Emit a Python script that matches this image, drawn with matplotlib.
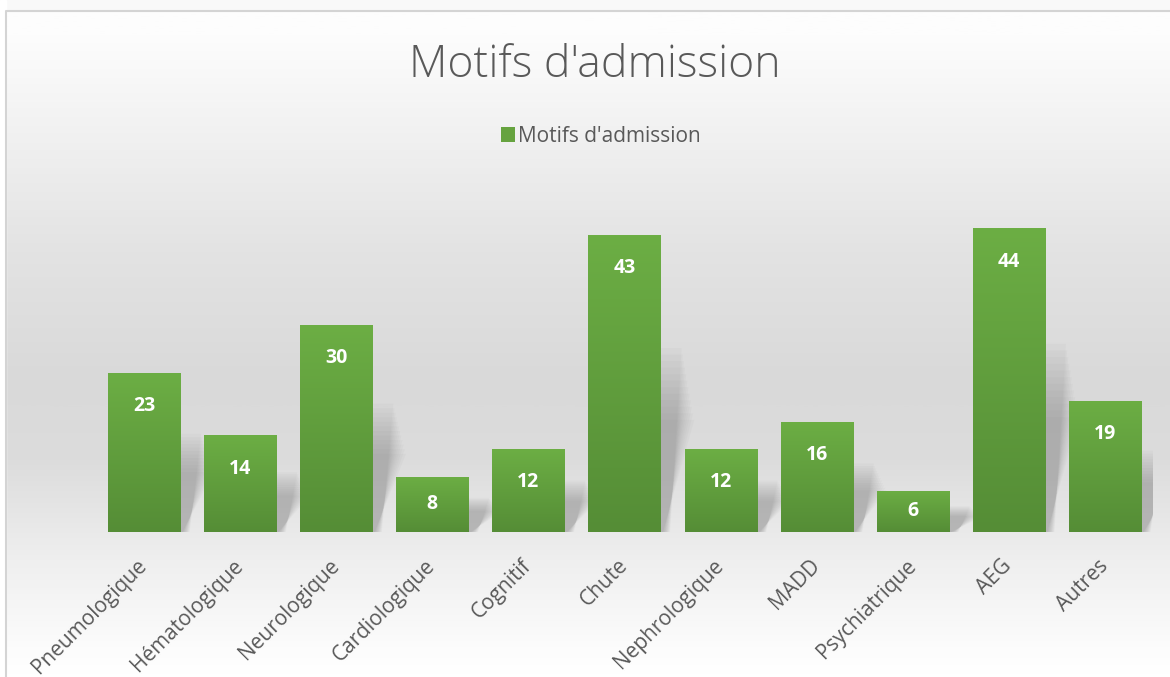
import matplotlib
matplotlib.use('Agg')
import matplotlib.pyplot as plt
from matplotlib.colors import LinearSegmentedColormap
from matplotlib.patches import Polygon, Rectangle
import numpy as np

categories = ['Pneumologique', 'Hématologique', 'Neurologique', 'Cardiologique',
              'Cognitif', 'Chute', 'Nephrologique', 'MADD', 'Psychiatrique',
              'AEG', 'Autres']
values = [23, 14, 30, 8, 12, 43, 12, 16, 6, 44, 19]
title = "Motifs d'admission"
series_name = "Motifs d'admission"

plt.rcParams['font.family'] = ['Open Sans', 'DejaVu Sans']

W, H = 1170, 677
fig = plt.figure(figsize=(W / 100, H / 100), dpi=100)

# background gradient (white -> grey -> white)
bg = fig.add_axes([0, 0, 1, 1], zorder=-10)
bg_cmap = LinearSegmentedColormap.from_list('bg', [
    (0.0, '#fdfdfd'), (0.05, '#fdfdfd'), (0.22, '#efefef'), (0.37, '#e3e3e3'),
    (0.56, '#d9d9d9'), (0.68, '#dcdcdc'), (0.83, '#efefef'), (0.96, '#fcfcfc'),
    (1.0, '#ffffff')])
grad = np.linspace(0, 1, 400).reshape(-1, 1)
bg.imshow(grad, cmap=bg_cmap, aspect='auto', extent=(0, 1, 0, 1), origin='upper')
bg.set_xlim(0, 1)
bg.set_ylim(0, 1)
bg.axis('off')
# white strip above/left of chart border, then the border itself
bg.add_patch(Rectangle((0, 1 - 11 / H), 1, 11 / H, color='#f9f9f9', zorder=2))
bg.add_patch(Rectangle((0, 0), 6 / W, 1, color='#ffffff', zorder=2))
bg.plot([6 / W, 6 / W, 1.0], [0, 1 - 11 / H, 1 - 11 / H], color='#d4d4d4', lw=1.5, zorder=3)

ax = fig.add_axes([96 / W, 1 - 532 / H, (1153 - 96) / W, 345 / H])
ax.patch.set_alpha(0)
x = np.arange(len(categories))
bars = ax.bar(x, values, width=0.75, color='none', zorder=3)
ax.set_xlim(-0.5, len(categories) - 0.5)
ax.set_ylim(0, 50)

bar_cmap = LinearSegmentedColormap.from_list('bar', ['#6cae44', '#558d36'])
for b in bars:
    x0, w, h = b.get_x(), b.get_width(), b.get_height()
    # soft perspective shadow behind each bar
    for k in range(12):
        s = k * 0.012
        top = h * (0.62 - k * 0.022)
        poly = Polygon([(x0 + 0.05, 0), (x0 + w + 0.10 - k * 0.007, 0),
                        (x0 + w + 0.22 + s, top),
                        (x0 + 0.22 + s, top)],
                       closed=True, facecolor='#6e6e6e', edgecolor='none',
                       alpha=0.04, zorder=1)
        ax.add_patch(poly)
    im = ax.imshow(grad, cmap=bar_cmap, aspect='auto', origin='upper',
                   extent=(x0, x0 + w, 0, h), zorder=3)
    im.set_clip_path(b)

ax.set_xlim(-0.5, len(categories) - 0.5)
ax.set_ylim(0, 50)

for xi, v in zip(x, values):
    off = min(4.8, v / 2.0)
    ax.text(xi, v - off, str(v), ha='center', va='center', color='white',
            fontsize=14, fontweight='bold', zorder=5)

ax.set_xticks(x)
ax.set_xticklabels(categories, rotation=45, ha='right', va='center',
                   rotation_mode='anchor', fontsize=15, color='#595959')
ax.tick_params(axis='x', length=0, pad=22)
ax.set_yticks([])
for sp in ax.spines.values():
    sp.set_visible(False)

fig.text(595 / W, 1 - 66 / H, title, ha='center', va='center',
         fontsize=32, color='#595959', fontweight='light')

# legend
leg_handle = Rectangle((0, 0), 1, 1, facecolor='#66a33f', edgecolor='none')
fig.legend([leg_handle], [series_name], loc='center', bbox_to_anchor=(601 / W, 1 - 136 / H),
           frameon=False, fontsize=15, labelcolor='#595959', handlelength=0.7,
           handleheight=0.7, handletextpad=0.15)

fig.savefig('out.png', dpi=100)
